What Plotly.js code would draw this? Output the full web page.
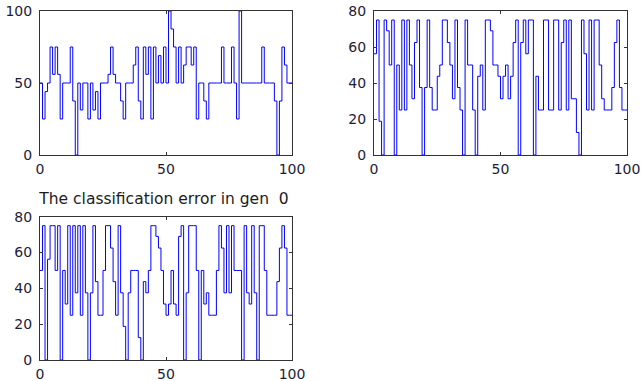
<!DOCTYPE html>
<html>
<head>
<meta charset="utf-8">
<script src="https://cdn.plot.ly/plotly-3.0.1.min.js"></script>
<style>html,body{margin:0;padding:0;background:#fff;}#chart{width:641px;height:381px;}</style>
</head>
<body>
<div id="chart"></div>
<script>
// x positions (generation index)
const xIdx = Array.from({length: 101}, (_, i) => i);

// Top-left panel values
const seriesTopLeft = [
  50, 25, 44, 50, 75, 56, 75, 56, 25, 50,
  50, 50, 75, 37.5, 0, 50, 31.25, 50, 50, 25,
  50, 31.25, 44, 25, 50, 50, 50, 56, 75, 56,
  50, 50, 37.5, 25, 50, 50, 50, 62.5, 75, 37.5,
  25, 75, 56, 75, 25, 75, 50, 69, 50, 75,
  50, 100, 87.5, 75, 50, 75, 50, 62.5, 75, 75,
  62.5, 75, 25, 50, 50, 37.5, 25, 50, 50, 50,
  50, 50, 75, 50, 50, 50, 75, 50, 25, 100,
  50, 50, 50, 50, 50, 50, 50, 50, 75, 50,
  50, 50, 50, 37.5, 0, 37.5, 75, 62.5, 50, 50,
  50
];

// Top-right panel values
const seriesTopRight = [
  56.25, 75, 18.75, 0, 75, 69, 50, 75, 0, 50,
  25, 75, 25, 75, 50, 31.25, 62.5, 75, 37.5, 0,
  37.5, 75, 37.5, 25, 25, 43.75, 50, 75, 75, 62.5,
  50, 31.25, 75, 37.5, 25, 0, 75, 50, 50, 25,
  0, 43.75, 50, 25, 75, 75, 69, 50, 50, 43.75,
  31.25, 43.75, 50, 31.25, 43.75, 62.5, 75, 0, 62.5, 75,
  56.25, 75, 75, 0, 43.75, 25, 25, 75, 75, 25,
  25, 75, 75, 25, 62.5, 75, 25, 75, 31.25, 31.25,
  12.5, 0, 75, 56.25, 25, 75, 25, 75, 75, 50,
  31.25, 25, 25, 25, 37.5, 62.5, 75, 37.5, 25, 25,
  25
];

// Bottom-left panel values ("The classification error in gen  0")
const seriesBottom = [
  50, 75, 0, 56.25, 75, 75, 50, 75, 0, 50,
  31.25, 75, 25, 75, 37.5, 75, 25, 75, 37.5, 0,
  37.5, 75, 43.75, 25, 25, 50, 75, 75, 62.5, 43.75,
  25, 75, 37.5, 18.75, 0, 37.5, 50, 50, 50, 12.5,
  0, 43.75, 37.5, 50, 75, 75, 69, 62.5, 50, 31.25,
  25, 31.25, 50, 31.25, 25, 69, 75, 0, 37.5, 75,
  75, 75, 50, 0, 50, 31.25, 37.5, 25, 25, 25,
  50, 75, 62.5, 37.5, 75, 37.5, 75, 50, 50, 50,
  0, 75, 37.5, 31.25, 75, 37.5, 0, 75, 75, 50,
  25, 25, 25, 25, 43.75, 62.5, 75, 62.5, 25, 25,
  25
];

const xTicks = [0, 50, 100];
const yTicksTop = [0, 50, 100];
const yTicks80 = [0, 20, 40, 60, 80];
const titleText = 'The classification error in gen&nbsp;&nbsp;0';

const W = 641, H = 381;
const fx = p => p / W;
const fy = p => 1 - p / H;

const lineStyle = {color: '#0000ff', width: 1, shape: 'hv'};
const tickFont = {family: 'DejaVu Sans, sans-serif', size: 14, color: '#1c1c38'};

function axisX(domain, anchor) {
  return {
    domain: domain, anchor: anchor, range: [0, 100], tickvals: xTicks,
    showline: true, linecolor: '#333', linewidth: 1, mirror: 'ticks',
    ticks: 'inside', ticklen: 3, tickcolor: '#333', showgrid: false, zeroline: false,
    tickfont: tickFont, ticklabelstandoff: 1, fixedrange: true
  };
}
function axisY(domain, anchor, range, tv) {
  return {
    domain: domain, anchor: anchor, range: range, tickvals: tv,
    showline: true, linecolor: '#333', linewidth: 1, mirror: 'ticks',
    ticks: 'inside', ticklen: 3, tickcolor: '#333', showgrid: false, zeroline: false,
    tickfont: tickFont, ticklabelstandoff: 4, fixedrange: true
  };
}

const data = [
  {x: xIdx, y: seriesTopLeft, type: 'scatter', mode: 'lines', line: lineStyle, xaxis: 'x', yaxis: 'y', hoverinfo: 'none'},
  {x: xIdx, y: seriesTopRight, type: 'scatter', mode: 'lines', line: lineStyle, xaxis: 'x2', yaxis: 'y2', hoverinfo: 'none'},
  {x: xIdx, y: seriesBottom, type: 'scatter', mode: 'lines', line: lineStyle, xaxis: 'x3', yaxis: 'y3', hoverinfo: 'none'}
];

const layout = {
  width: W, height: H,
  margin: {l: 0, r: 0, t: 0, b: 0},
  paper_bgcolor: '#fff', plot_bgcolor: '#fff',
  showlegend: false,
  title: {
    text: titleText,
    x: 164 / W, xanchor: 'center', xref: 'paper',
    y: fy(199), yanchor: 'middle', yref: 'paper',
    font: {family: 'DejaVu Sans, sans-serif', size: 15.5, color: '#1c1c1c'}
  },
  xaxis: axisX([fx(40), fx(292)], 'y'),
  yaxis: axisY([fy(155), fy(11)], 'x', [0, 100], yTicksTop),
  xaxis2: axisX([fx(374), fx(627)], 'y2'),
  yaxis2: axisY([fy(155), fy(11)], 'x2', [0, 80], yTicks80),
  xaxis3: axisX([fx(40), fx(292)], 'y3'),
  yaxis3: axisY([fy(360), fy(216.7)], 'x3', [0, 80], yTicks80)
};

Plotly.newPlot('chart', data, layout, {staticPlot: true, displayModeBar: false});
</script>
</body>
</html>
